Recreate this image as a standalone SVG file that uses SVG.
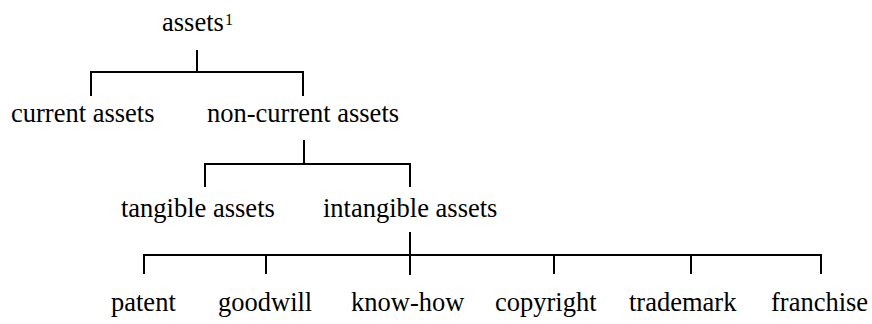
<svg xmlns="http://www.w3.org/2000/svg" width="872" height="324" viewBox="0 0 872 324">
<style>
.t{font-family:"Liberation Serif","Times New Roman",serif;font-size:26.5px;fill:#000}
.sup{font-family:"Liberation Serif","Times New Roman",serif;font-size:16px;fill:#000}
.c line{stroke:#000;stroke-width:2;fill:none}
</style>
<rect width="872" height="324" fill="#fff"/>
<g id="connectors" class="c">
<line x1="197" y1="50" x2="197" y2="72"/>
<line x1="90" y1="72" x2="304" y2="72"/>
<line x1="91" y1="72" x2="91" y2="96"/>
<line x1="303" y1="72" x2="303" y2="96"/>
<line x1="304" y1="140" x2="304" y2="164"/>
<line x1="204" y1="164" x2="411" y2="164"/>
<line x1="205" y1="164" x2="205" y2="187"/>
<line x1="410" y1="164" x2="410" y2="187"/>
<line x1="410" y1="232" x2="410" y2="275"/>
<line x1="143" y1="255" x2="822" y2="255"/>
<line x1="144" y1="255" x2="144" y2="274"/>
<line x1="266" y1="255" x2="266" y2="274"/>
<line x1="554" y1="255" x2="554" y2="274"/>
<line x1="691" y1="255" x2="691" y2="274"/>
<line x1="821" y1="255" x2="821" y2="274"/>
</g>
<g id="assets"><text class="t" x="162" y="31">assets</text><text class="sup" x="225" y="25">1</text></g>
<g id="current-assets"><text class="t" x="11" y="122">current assets</text></g>
<g id="non-current-assets"><text class="t" x="207" y="122">non-current assets</text></g>
<g id="tangible-assets"><text class="t" x="121" y="217">tangible assets</text></g>
<g id="intangible-assets"><text class="t" x="323" y="217">intangible assets</text></g>
<g id="patent"><text class="t" x="111" y="311">patent</text></g>
<g id="goodwill"><text class="t" x="218" y="311">goodwill</text></g>
<g id="know-how"><text class="t" x="351" y="311">know-how</text></g>
<g id="copyright"><text class="t" x="495" y="311">copyright</text></g>
<g id="trademark"><text class="t" x="629" y="311">trademark</text></g>
<g id="franchise"><text class="t" x="771" y="311">franchise</text></g>
</svg>
